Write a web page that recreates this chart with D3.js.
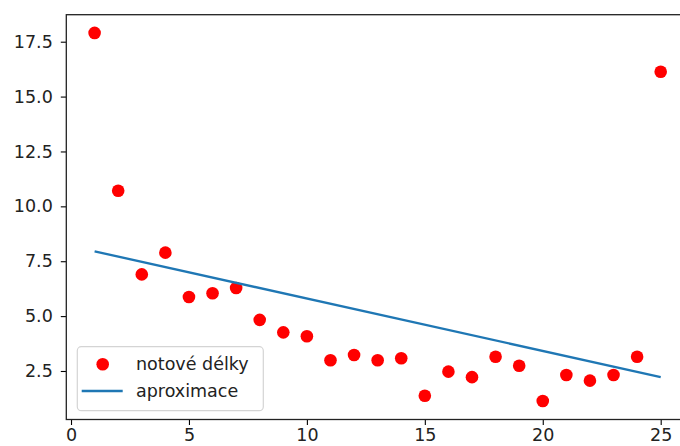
<!DOCTYPE html>
<html>
<head>
<meta charset="utf-8">
<script src="https://cdn.jsdelivr.net/npm/d3@7"></script>
<style>
    body { margin: 0; background: #fff; }
    text { font-family: "DejaVu Sans", sans-serif; }
</style>
</head>
<body>
<div id="chart"></div>
<script>
// 1: DATA
const noteIndex = [1, 2, 3, 4, 5, 6, 7, 8, 9, 10, 11, 12, 13, 14, 15, 16, 17, 18, 19, 20, 21, 22, 23, 24, 25];
const noteLengths = [17.90, 10.71, 6.90, 7.89, 5.87, 6.04, 6.28, 4.83, 4.26, 4.08, 2.99, 3.23, 2.99, 3.08,
    1.37, 2.47, 2.22, 3.15, 2.74, 1.13, 2.32, 2.06, 2.32, 3.15, 16.13];
const fitX = [1, 25];
const fitY = [7.95, 2.22];
const xTicks = [0, 5, 10, 15, 20, 25];
const yTicks = [2.5, 5.0, 7.5, 10.0, 12.5, 15.0, 17.5];
const legendLabels = ["notové délky", "aproximace"];

// 2: GLOBAL VARIABLES
const W = 680, H = 446;
const plot = { left: 66.3, top: 14.7, right: 689, bottom: 419.5 };
const fontSize = 17.5;
const red = "#ff0000";
const blue = "#1f77b4";

const svg = d3.select("#chart")
    .append("svg")
    .attr("width", W)
    .attr("height", H);

// 3: SCALES
const x = d3.scaleLinear()
    .domain([-0.2, 26.2])
    .range([plot.left, plot.right]);

const y = d3.scaleLinear()
    .domain([0.29, 18.73])
    .range([plot.bottom, plot.top]);

// 4: PLOT DATA
svg.selectAll("circle.pt")
    .data(noteIndex)
    .enter()
    .append("circle")
    .attr("class", "pt")
    .attr("cx", (d, i) => x(d))
    .attr("cy", (d, i) => y(noteLengths[i]))
    .attr("r", 6.3)
    .attr("fill", red);

svg.append("path")
    .datum(fitX.map((d, i) => [d, fitY[i]]))
    .attr("fill", "none")
    .attr("stroke", blue)
    .attr("stroke-width", 2.3)
    .attr("d", d3.line()
        .x(d => x(d[0]))
        .y(d => y(d[1]))
    );

// 5: AXES
const xAxis = svg.append("g")
    .attr("transform", `translate(0,${plot.bottom})`)
    .call(d3.axisBottom(x).tickValues(xTicks).tickFormat(d3.format("d")).tickSizeOuter(0).tickSize(5.5).tickPadding(4));

const yAxis = svg.append("g")
    .attr("transform", `translate(${plot.left},0)`)
    .call(d3.axisLeft(y).tickValues(yTicks).tickFormat(d3.format(".1f")).tickSizeOuter(0).tickSize(5.5).tickPadding(8));

[xAxis, yAxis].forEach(g => {
    g.select(".domain").remove();
    g.selectAll(".tick line").attr("stroke", "#000").attr("stroke-width", 1.1);
    g.selectAll(".tick text")
        .attr("font-size", fontSize)
        .attr("font-family", "DejaVu Sans, sans-serif")
        .attr("fill", "#222");
});

// frame
svg.append("rect")
    .attr("x", plot.left)
    .attr("y", plot.top)
    .attr("width", plot.right - plot.left)
    .attr("height", plot.bottom - plot.top)
    .attr("fill", "none")
    .attr("stroke", "#222")
    .attr("stroke-width", 1.3);

// 6: LEGEND
const legend = svg.append("g");

legend.append("rect")
    .attr("x", 77.3)
    .attr("y", 346.7)
    .attr("width", 186)
    .attr("height", 64)
    .attr("rx", 4)
    .attr("fill", "#fff")
    .attr("fill-opacity", 0.8)
    .attr("stroke", "#d4d4d4")
    .attr("stroke-width", 1.2);

legend.append("circle")
    .attr("cx", 102.7)
    .attr("cy", 364.3)
    .attr("r", 6.3)
    .attr("fill", red);

legend.append("line")
    .attr("x1", 81.7)
    .attr("x2", 122.7)
    .attr("y1", 391)
    .attr("y2", 391)
    .attr("stroke", blue)
    .attr("stroke-width", 2.3);

legend.selectAll("text")
    .data(legendLabels)
    .enter()
    .append("text")
    .attr("x", 136)
    .attr("y", (d, i) => 364.3 + i * 26.7)
    .attr("dy", "0.35em")
    .attr("font-size", fontSize)
    .attr("fill", "#222")
    .text(d => d);
</script>
</body>
</html>
